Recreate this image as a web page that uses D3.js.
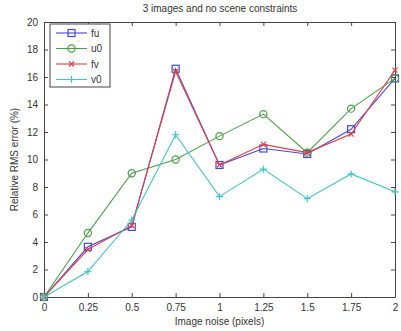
<!DOCTYPE html>
<html>
<head>
<script src="https://d3js.org/d3.v7.min.js"></script>
<style>
 body { margin: 0; background: #fff; }
 text { font-family: "Liberation Sans", Arial, sans-serif; fill: #333; }
</style>
</head>
<body>
<svg width="401" height="331"></svg>
<script>
 var noise = [0, 0.25, 0.5, 0.75, 1, 1.25, 1.5, 1.75, 2];
 var xTicks = ["0", "0.25", "0.5", "0.75", "1", "1.25", "1.5", "1.75", "2"];
 var yTicks = [0, 2, 4, 6, 8, 10, 12, 14, 16, 18, 20];
 var fu = [0, 3.65, 5.1, 16.6, 9.6, 10.8, 10.4, 12.2, 15.9];
 var u0 = [0, 4.65, 9.0, 10.0, 11.7, 13.3, 10.5, 13.7, 15.9];
 var fv = [0, 3.45, 5.2, 16.4, 9.6, 11.1, 10.5, 11.85, 16.5];
 var v0 = [0, 1.85, 5.6, 11.8, 7.3, 9.3, 7.15, 8.95, 7.65];
 var names = ["fu", "u0", "fv", "v0"];
 var series = [fu, u0, fv, v0];
 var colors = ["#4646d8", "#4a9e4a", "#e04040", "#40c4c4"];
 var symbols = ["square", "circle", "x", "plus"];

 var svg = d3.select("svg");
 var pLeft = 44, pRight = 395, pTop = 22, pBottom = 297;
 var x = d3.scaleLinear().domain([0, 2]).range([pLeft, pRight]);
 var y = d3.scaleLinear().domain([0, 20]).range([pBottom, pTop]);

 // axes with inward ticks, mirrored on top and right
 function styleAxis(g) {
     g.selectAll("path").attr("stroke", "#444");
     g.selectAll("line").attr("stroke", "#444");
     g.selectAll("text").attr("font-size", "10px").attr("fill", "#333");
 }
 svg.append("g").attr("transform", "translate(0," + pBottom + ")")
    .call(d3.axisBottom(x).tickValues(noise).tickFormat(function(d, i) { return xTicks[i]; })
          .tickSizeInner(-4).tickSizeOuter(0).tickPadding(7))
    .call(styleAxis);
 svg.append("g").attr("transform", "translate(0," + pTop + ")")
    .call(d3.axisTop(x).tickValues(noise).tickSizeInner(-4).tickSizeOuter(0).tickFormat(""))
    .call(styleAxis);
 svg.append("g").attr("transform", "translate(" + pLeft + ",0)")
    .call(d3.axisLeft(y).tickValues(yTicks).tickSizeInner(-4).tickSizeOuter(0).tickPadding(6))
    .call(styleAxis);
 svg.append("g").attr("transform", "translate(" + pRight + ",0)")
    .call(d3.axisRight(y).tickValues(yTicks).tickSizeInner(-4).tickSizeOuter(0).tickFormat(""))
    .call(styleAxis);

 var line = d3.line().x(function(d, i) { return x(noise[i]); }).y(function(d) { return y(d); });

 function marker(g, kind, cx, cy, color) {
     if (kind == "square")
         g.append("rect").attr("x", cx - 3.5).attr("y", cy - 3.5).attr("width", 7).attr("height", 7)
          .attr("fill", "none").attr("stroke", color).attr("stroke-width", 1.2);
     else if (kind == "circle")
         g.append("circle").attr("cx", cx).attr("cy", cy).attr("r", 3.6)
          .attr("fill", "none").attr("stroke", color).attr("stroke-width", 1.2);
     else if (kind == "x")
         g.append("path").attr("d", "M" + (cx - 2.5) + "," + (cy - 2.5) + "L" + (cx + 2.5) + "," + (cy + 2.5) +
                                    "M" + (cx - 2.5) + "," + (cy + 2.5) + "L" + (cx + 2.5) + "," + (cy - 2.5))
          .attr("stroke", color).attr("stroke-width", 1.2);
     else
         g.append("path").attr("d", "M" + (cx - 3.5) + "," + cy + "L" + (cx + 3.5) + "," + cy +
                                    "M" + cx + "," + (cy - 3.5) + "L" + cx + "," + (cy + 3.5))
          .attr("stroke", color).attr("stroke-width", 1.2);
 }

 series.forEach(function(s, k) {
     var g = svg.append("g");
     g.append("path").datum(s).attr("d", line).attr("fill", "none")
      .attr("stroke", colors[k]).attr("stroke-width", 1.1);
     s.forEach(function(v, i) { marker(g, symbols[k], x(noise[i]), y(v), colors[k]); });
 });

 // legend
 var lg = svg.append("g");
 lg.append("rect").attr("x", 50).attr("y", 24).attr("width", 60).attr("height", 63)
   .attr("fill", "#fff").attr("stroke", "#444");
 names.forEach(function(n, k) {
     var ly = 33 + k * 15.5;
     lg.append("line").attr("x1", 56).attr("x2", 87).attr("y1", ly).attr("y2", ly)
       .attr("stroke", colors[k]).attr("stroke-width", 1.1);
     marker(lg, symbols[k], 71.5, ly, colors[k]);
     lg.append("text").attr("x", 91).attr("y", ly + 3.5).attr("font-size", "10px").text(n);
 });

 svg.append("text").attr("x", 220).attr("y", 12).attr("text-anchor", "middle")
    .attr("font-size", "10px").text("3 images and no scene constraints");
 svg.append("text").attr("x", (pLeft + pRight) / 2).attr("y", 325).attr("text-anchor", "middle")
    .attr("font-size", "10px").text("Image noise (pixels)");
 svg.append("text").attr("transform", "translate(18," + ((pTop + pBottom) / 2) + ") rotate(-90)")
    .attr("text-anchor", "middle").attr("font-size", "10px").text("Relative RMS error (%)");
</script>
</body>
</html>
